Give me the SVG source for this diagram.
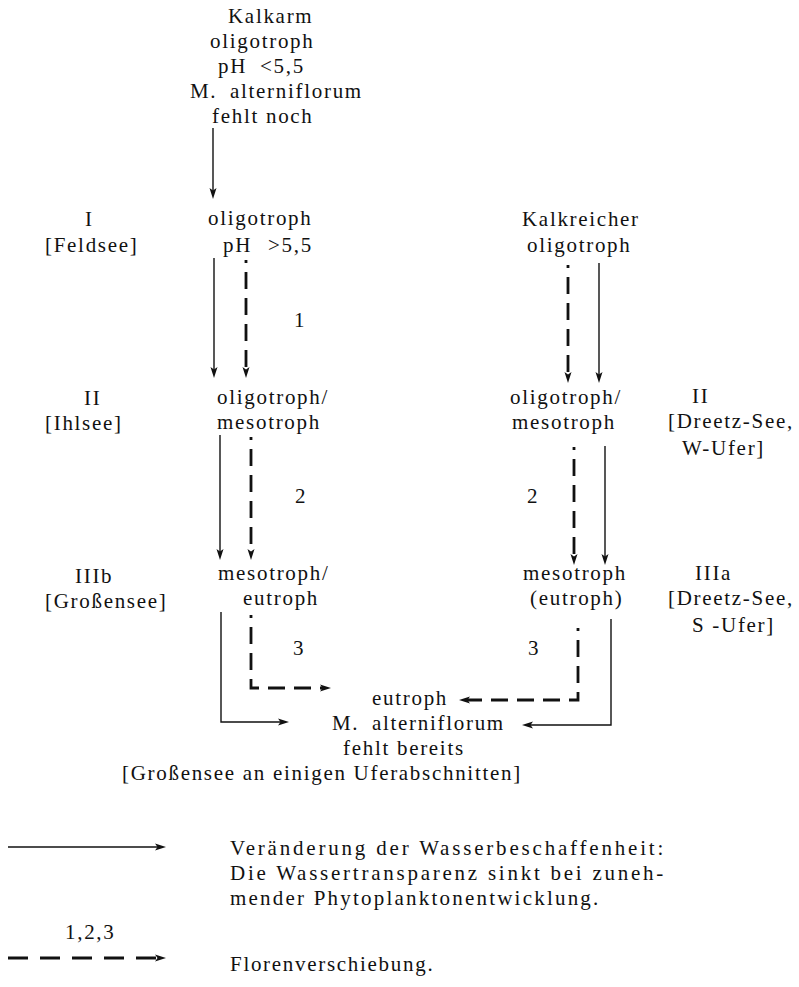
<svg xmlns="http://www.w3.org/2000/svg" width="799" height="987" viewBox="0 0 799 987">
<defs>
<style>
text{font-family:"Liberation Serif","Times New Roman",serif;font-size:21px;letter-spacing:1.7px;fill:#111;}
.s{fill:none;stroke:#111;stroke-width:1.4;}
.d{fill:none;stroke:#111;stroke-width:2.8;stroke-dasharray:17 9;stroke-dashoffset:14;}
</style>
<marker id="ah" markerUnits="userSpaceOnUse" markerWidth="12" markerHeight="8" viewBox="0 0 11 8" refX="3" refY="4" orient="auto">
<path d="M0,0.5 L11,4 L0,7.5 L2.5,4 z" fill="#111"/>
</marker>
</defs>
<rect width="799" height="987" fill="#fff"/>

<g id="n-top">
<text x="228" y="23">Kalkarm</text>
<text x="210" y="48">oligotroph</text>
<text x="218" y="73">pH</text><text x="260" y="73">&lt;5,5</text>
<text x="190" y="98">M.</text><text x="230" y="98">alterniflorum</text>
<text x="212" y="123">fehlt noch</text>
</g>

<g id="n-I-label">
<text x="85" y="226">I</text>
<text x="45" y="252">[Feldsee]</text>
</g>
<g id="n-I">
<text x="208" y="225">oligotroph</text>
<text x="223" y="252">pH</text><text x="268" y="252">&gt;5,5</text>
</g>
<g id="n-kalkreich">
<text x="522" y="226">Kalkreicher</text>
<text x="527" y="252">oligotroph</text>
</g>

<g id="n-II-label">
<text x="84" y="405">II</text>
<text x="45" y="430">[Ihlsee]</text>
</g>
<g id="n-II-left">
<text x="217" y="404">oligotroph/</text>
<text x="217" y="429">mesotroph</text>
</g>
<g id="n-II-right">
<text x="510" y="404">oligotroph/</text>
<text x="512" y="429">mesotroph</text>
</g>
<g id="n-II-rlabel">
<text x="692" y="403">II</text>
<text x="668" y="428">[Dreetz-See,</text>
<text x="682" y="455">W-Ufer]</text>
</g>

<g id="n-III-label">
<text x="75" y="583">IIIb</text>
<text x="45" y="608">[Großensee]</text>
</g>
<g id="n-III-left">
<text x="218" y="580">mesotroph/</text>
<text x="243" y="605">eutroph</text>
</g>
<g id="n-III-right">
<text x="523" y="580">mesotroph</text>
<text x="530" y="605">(eutroph)</text>
</g>
<g id="n-III-rlabel">
<text x="695" y="580">IIIa</text>
<text x="668" y="605">[Dreetz-See,</text>
<text x="692" y="632">S -Ufer]</text>
</g>

<g id="n-bottom">
<text x="372" y="705">eutroph</text>
<text x="332" y="730">M.</text><text x="372" y="730">alterniflorum</text>
<text x="343" y="755">fehlt bereits</text>
<text x="122" y="780">[Großensee an einigen Uferabschnitten]</text>
</g>

<g id="step-labels">
<text x="294" y="327">1</text>
<text x="295" y="503">2</text>
<text x="527" y="503">2</text>
<text x="293" y="655">3</text>
<text x="528" y="655">3</text>
</g>

<g id="connectors">
<path class="s" d="M213,128 V191" marker-end="url(#ah)"/>
<path class="s" d="M214,258 V370" marker-end="url(#ah)"/>
<path class="d" d="M246,260 V370" marker-end="url(#ah)"/>
<path class="d" d="M568,265 V375" marker-end="url(#ah)"/>
<path class="s" d="M599,263 V375" marker-end="url(#ah)"/>
<path class="s" d="M220,435 V552" marker-end="url(#ah)"/>
<path class="d" d="M251,437 V552" marker-end="url(#ah)"/>
<path class="d" d="M574,447 V557" marker-end="url(#ah)"/>
<path class="s" d="M605,446 V557" marker-end="url(#ah)"/>
<path class="s" d="M221,612 V722 H281" marker-end="url(#ah)"/>
<path class="d" d="M251,615 V688 H323" marker-end="url(#ah)"/>
<path class="d" d="M578,628 V700 H467" marker-end="url(#ah)"/>
<path class="s" d="M611,619 V725 H530" marker-end="url(#ah)"/>
</g>

<g id="legend">
<path class="s" d="M8,847 H158" marker-end="url(#ah)"/>
<text x="230" y="855" textLength="435" lengthAdjust="spacing">Veränderung der Wasserbeschaffenheit:</text>
<text x="230" y="880" textLength="435" lengthAdjust="spacing">Die Wassertransparenz sinkt bei zuneh-</text>
<text x="230" y="905" textLength="370" lengthAdjust="spacing">mender Phytoplanktonentwicklung.</text>
<text x="65" y="939">1,2,3</text>
<path d="M8,958 H158" fill="none" stroke="#111" stroke-width="2.8" stroke-dasharray="20 12" marker-end="url(#ah)"/>
<text x="230" y="971">Florenverschiebung.</text>
</g>
</svg>
